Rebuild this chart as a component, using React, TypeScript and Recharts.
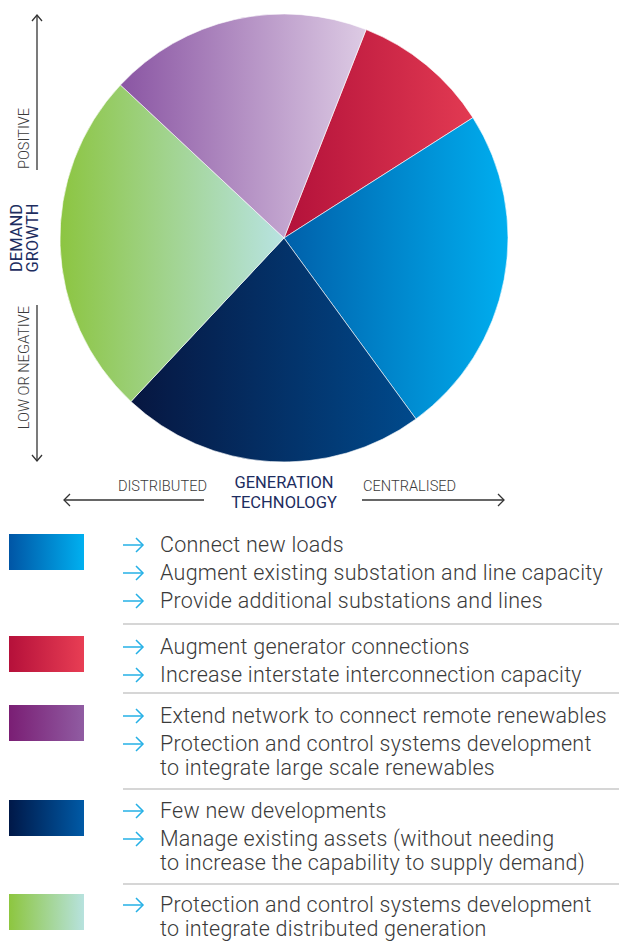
import { Cell, Pie, PieChart } from 'recharts';

// Share of each network outcome, clockwise from roughly 1 o'clock.
const SEGMENTS = ['centralised-positive', 'centralised', 'low-demand', 'distributed', 'remote-renewables'];
const SHARES = [10, 24, 22, 25, 19];

// Horizontal gradients [left, right] for pie slices and legend swatches.
const PIE_GRADIENTS: [string, string][] = [
  ['#b3113a', '#e23a52'],
  ['#0060aa', '#00aeef'],
  ['#071640', '#004a8c'],
  ['#8cc541', '#b8e3e2'],
  ['#8a55a3', '#ddcbe4'],
];

const SWATCH_GRADIENTS: [string, string][] = [
  ['#0055a5', '#00b0f0'],
  ['#b5103a', '#e83e54'],
  ['#7a1e74', '#905ca2'],
  ['#001848', '#005aa6'],
  ['#8dc63f', '#b7e2de'],
];

// Legend order differs from pie order: blue, red, purple, navy, green.
const LEGEND_ITEMS: string[][][] = [
  [['Connect new loads'], ['Augment existing substation and line capacity'], ['Provide additional substations and lines']],
  [['Augment generator connections'], ['Increase interstate interconnection capacity']],
  [
    ['Extend network to connect remote renewables'],
    ['Protection and control systems development', 'to integrate large scale renewables'],
  ],
  [
    ['Few new developments'],
    ['Manage existing assets (without needing', 'to increase the capability to supply demand)'],
  ],
  [['Protection and control systems development', 'to integrate distributed generation']],
];

const LEGEND_TOPS = [534, 636, 705, 800, 894];
const SEPARATORS = [623, 692, 788, 883];

const LIGHT = '"Roboto", "Liberation Sans", sans-serif';
const NAVY = '#1d2d5f';
const GREY = '#3a3a3a';

const rows = SEGMENTS.map((name, i) => ({ name, value: SHARES[i] }));

function Bullet() {
  return (
    <svg width={22} height={16} style={{ position: 'absolute', left: -37, top: 4 }}>
      <line x1={0} y1={8} x2={20} y2={8} stroke="#25b0e6" strokeWidth={1.5} />
      <polyline points="13,1 20,8 13,15" fill="none" stroke="#25b0e6" strokeWidth={1.5} />
    </svg>
  );
}

function Axes() {
  return (
    <svg width={619} height={520} style={{ position: 'absolute', left: 0, top: 0 }}>
      <g stroke="#333" strokeWidth={1.3} fill="none">
        <line x1={37} y1={15} x2={37} y2={170} />
        <polyline points="32,21 37,15 42,21" />
        <line x1={37} y1={305} x2={37} y2={461} />
        <polyline points="32,455 37,461 42,455" />
        <line x1={64} y1={500} x2={204} y2={500} />
        <polyline points="70,494 64,500 70,506" />
        <line x1={362} y1={500} x2={504} y2={500} />
        <polyline points="498,494 504,500 498,506" />
      </g>
      <g fontFamily={LIGHT} fontWeight={300} fontSize={14.6} fill={GREY}>
        <text x={29} y={169} transform="rotate(-90 29 169)">POSITIVE</text>
        <text x={29} y={306} textAnchor="end" transform="rotate(-90 29 306)">LOW OR NEGATIVE</text>
        <text x={207} y={491} textAnchor="end">DISTRIBUTED</text>
        <text x={363} y={491}>CENTRALISED</text>
      </g>
      <g fontFamily={LIGHT} fontWeight={400} fontSize={16.5} fill={NAVY} textAnchor="middle">
        <text x={21.5} y={238} transform="rotate(-90 21.5 238)">DEMAND</text>
        <text x={37.5} y={238} transform="rotate(-90 37.5 238)">GROWTH</text>
        <text x={284} y={488}>GENERATION</text>
        <text x={284} y={508}>TECHNOLOGY</text>
      </g>
    </svg>
  );
}

export default function App() {
  return (
    <div style={{ position: 'relative', width: 619, height: 948, background: '#fff', overflow: 'hidden' }}>
      <style>{'body{margin:0}'}</style>
      <div style={{ position: 'absolute', left: 0, top: 0 }}>
        <PieChart width={619} height={480} margin={{ top: 0, right: 0, bottom: 0, left: 0 }}>
          <defs>
            {PIE_GRADIENTS.map(([a, b], i) => (
              <linearGradient key={i} id={`pie-${i}`} x1="0" y1="0" x2="1" y2="0">
                <stop offset="0%" stopColor={a} />
                <stop offset="100%" stopColor={b} />
              </linearGradient>
            ))}
          </defs>
          <Pie
            data={rows}
            dataKey="value"
            nameKey="name"
            cx={284}
            cy={238}
            outerRadius={224}
            startAngle={68.5}
            endAngle={-291.5}
            stroke="#ffffff"
            strokeWidth={0.6}
            isAnimationActive={false}
          >
            {rows.map((r, i) => (
              <Cell key={r.name} fill={`url(#pie-${i})`} />
            ))}
          </Pie>
        </PieChart>
      </div>
      <Axes />
      {SEPARATORS.map(y => (
        <div key={y} style={{ position: 'absolute', left: 123, top: y, width: 496, height: 1.5, background: '#d6d6d6' }} />
      ))}
      {LEGEND_ITEMS.map((bullets, g) => {
        const [a, b] = SWATCH_GRADIENTS[g];
        const top = LEGEND_TOPS[g];
        return (
          <div key={g}>
            <div
              style={{
                position: 'absolute',
                left: 9,
                top,
                width: 75,
                height: 36,
                background: `linear-gradient(to right, ${a}, ${b})`,
              }}
            />
            <div
              style={{
                position: 'absolute',
                left: 160,
                top: top - 1,
                fontFamily: LIGHT,
                fontWeight: 300,
                fontSize: 21.5,
                letterSpacing: 0.25,
                lineHeight: '24px',
                color: GREY,
                whiteSpace: 'nowrap',
              }}
            >
              {bullets.map((lines, j) => (
                <div key={j} style={{ position: 'relative', marginTop: j ? 4 : 0 }}>
                  <Bullet />
                  {lines.map(l => (
                    <div key={l}>{l}</div>
                  ))}
                </div>
              ))}
            </div>
          </div>
        );
      })}
    </div>
  );
}
